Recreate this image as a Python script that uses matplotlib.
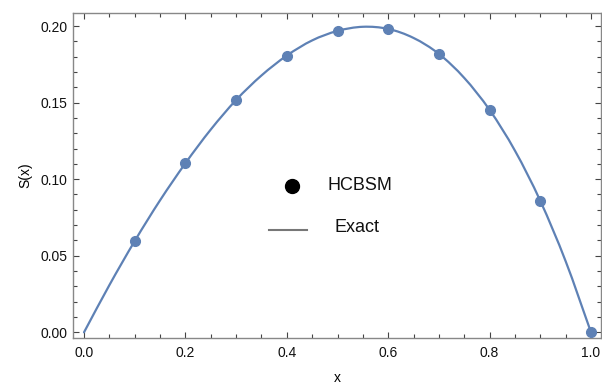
import matplotlib
matplotlib.use("Agg")
import matplotlib.pyplot as plt
from matplotlib.ticker import MultipleLocator, FormatStrFormatter
from matplotlib.lines import Line2D
from matplotlib.path import Path
from matplotlib.patches import PathPatch

plt.rcParams['font.family'] = ['Liberation Sans', 'DejaVu Sans']

# HCBSM numerical points
x_pts = [0.1, 0.2, 0.3, 0.4, 0.5, 0.6, 0.7, 0.8, 0.9, 1.0]
s_pts = [0.0596, 0.1104, 0.1517, 0.1807, 0.1968, 0.1981, 0.1818, 0.1452, 0.0858, 0.0]

# Exact solution
x_exact = [0.0, 0.05, 0.1, 0.15, 0.2, 0.25, 0.3, 0.35, 0.4, 0.45, 0.5,
           0.55, 0.6, 0.65, 0.7, 0.75, 0.8, 0.85, 0.9, 0.95, 1.0]
s_exact = [0.0, 0.0308, 0.0596, 0.0862, 0.1104, 0.1324, 0.1517, 0.1677, 0.1807, 0.1906, 0.1968,
           0.1995, 0.1981, 0.1922, 0.1818, 0.1661, 0.1452, 0.1186, 0.0858, 0.0464, 0.0]

x_ticks = [0.0, 0.2, 0.4, 0.6, 0.8, 1.0]
y_ticks = [0.00, 0.05, 0.10, 0.15, 0.20]

color = '#5E81B5'
frame = '#888888'

fig = plt.figure(figsize=(6.02, 3.85), dpi=100)
ax = fig.add_axes([73/602, 47/385, 528/602, 325/385])


def smooth_path(xs, ys):
    """Catmull-Rom curve through the read points, as cubic Bezier segments."""
    n = len(xs)
    verts = [(xs[0], ys[0])]
    codes = [Path.MOVETO]
    for i in range(n - 1):
        x0, y0 = (xs[i - 1], ys[i - 1]) if i > 0 else (2 * xs[0] - xs[1], 2 * ys[0] - ys[1])
        x1, y1 = xs[i], ys[i]
        x2, y2 = xs[i + 1], ys[i + 1]
        x3, y3 = (xs[i + 2], ys[i + 2]) if i + 2 < n else (2 * xs[-1] - xs[-2], 2 * ys[-1] - ys[-2])
        c1 = (x1 + (x2 - x0) / 6, y1 + (y2 - y0) / 6)
        c2 = (x2 - (x3 - x1) / 6, y2 - (y3 - y1) / 6)
        verts += [c1, c2, (x2, y2)]
        codes += [Path.CURVE4] * 3
    return Path(verts, codes)


ax.add_patch(PathPatch(smooth_path(x_exact, s_exact), fill=False, edgecolor=color,
                       lw=1.6, zorder=2, capstyle='round'))
ax.plot(x_pts, s_pts, 'o', color=color, ms=7.0, mec=color, zorder=3, clip_on=False)

ax.set_xlim(-0.0217, 1.0197)
ax.set_ylim(-0.0037, 0.2085)

ax.set_xticks(x_ticks)
ax.set_yticks(y_ticks)
ax.xaxis.set_major_formatter(FormatStrFormatter('%.1f'))
ax.yaxis.set_major_formatter(FormatStrFormatter('%.2f'))
ax.xaxis.set_minor_locator(MultipleLocator(0.05))
ax.yaxis.set_minor_locator(MultipleLocator(0.01))

for s in ax.spines.values():
    s.set_color(frame)
    s.set_linewidth(1.0)

ax.tick_params(which='both', direction='in', top=True, right=True, color='#444444',
               labelsize=10, labelcolor='#111111', width=0.8)
ax.tick_params(which='major', length=4.5)
ax.tick_params(which='minor', length=2.8)
ax.tick_params(axis='x', pad=6)
ax.tick_params(axis='y', pad=4)

ax.set_xlabel('x', fontsize=10, labelpad=8)
ax.set_ylabel('S(x)', fontsize=10, labelpad=6)


# Legend (drawn in axes coordinates)
def ax_xy(px, py):
    fx = (px - 73) / 528
    fy = (338 - py) / 325
    return fx, fy


mx, my = ax_xy(292, 186)
ax.add_line(Line2D([mx], [my], marker='o', color='black', ms=10, ls='none',
                   transform=ax.transAxes))
l0, ly = ax_xy(269, 230)
l1, _ = ax_xy(307, 230)
ax.add_line(Line2D([l0, l1], [ly, ly], color='#777777', lw=1.5, transform=ax.transAxes))
tx, ty = ax_xy(327.5, 186)
ax.text(tx, ty, 'HCBSM', transform=ax.transAxes, fontsize=13, va='center', ha='left', color='#111111')
tx2, ty2 = ax_xy(334, 228)
ax.text(tx2, ty2, 'Exact', transform=ax.transAxes, fontsize=13, va='center', ha='left', color='#111111')

fig.savefig('out.png', dpi=100)
